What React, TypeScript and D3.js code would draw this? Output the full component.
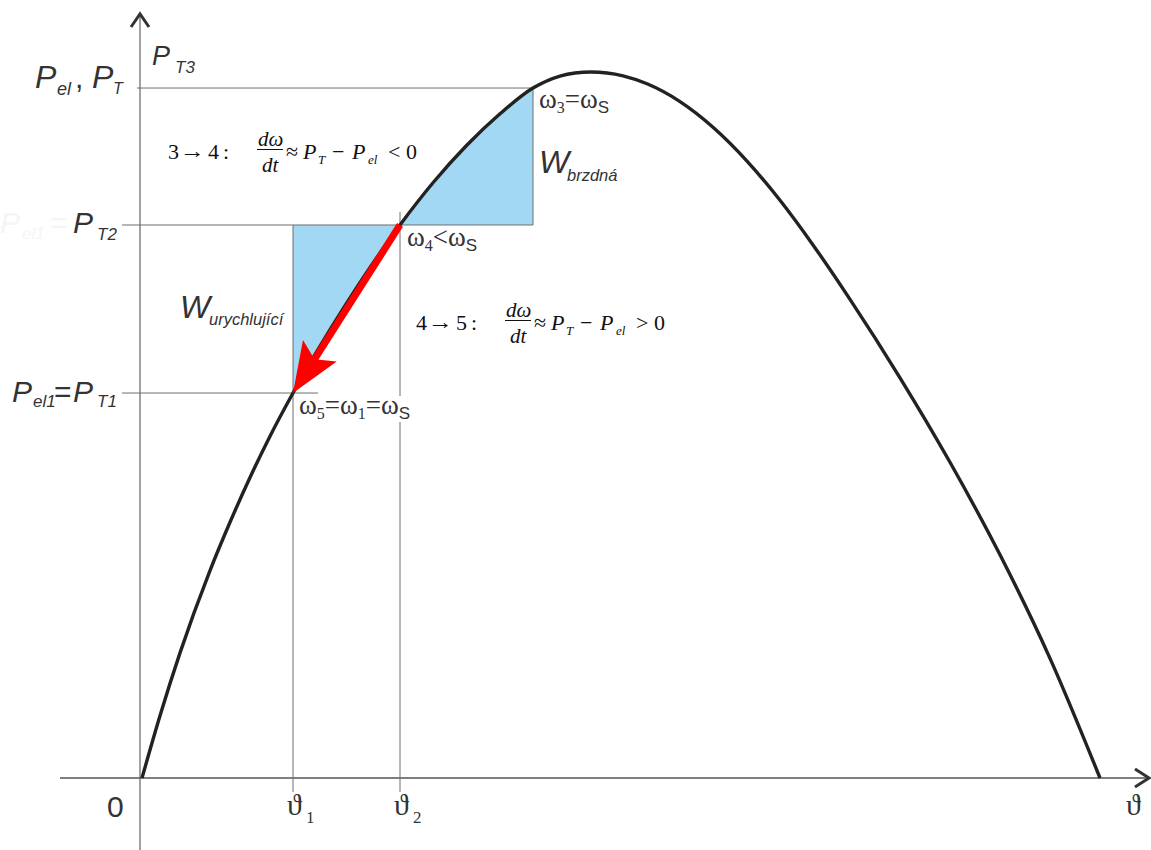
import React from 'react';
import * as d3 from 'd3';

// Power–angle characteristic P(ϑ), angle in degrees, power relative to the maximum
const curveTheta = [
  0, 3.382, 7.14, 12.776, 16.534, 20.292, 24.05, 28.372, 38.33, 48.476, 54.676, 61.065, 67.265, 73.466,
  78.539, 81.357, 84.363, 90.376, 94.885, 101.086, 107.286, 113.674, 119.875, 126.075, 133.027, 142.422,
  151.816, 161.211, 170.605, 180,
];
const curvePower = [
  0, 0.0881, 0.1772, 0.2938, 0.3622, 0.4256, 0.4841, 0.5453, 0.6711, 0.7833, 0.8431, 0.8966, 0.9408, 0.9773,
  0.9943, 0.9986, 1.0, 0.9946, 0.9833, 0.9581, 0.9218, 0.8739, 0.8183, 0.7551, 0.678, 0.5669,
  0.4472, 0.3161, 0.1695, 0,
];

// Operating angles ϑ1, ϑ2, ϑ3 and turbine power levels PT1, PT2, PT3
const angleMarks = [28.372, 48.476, 73.466];
const powerLevels = [0.5453, 0.7833, 0.9773];
const angleLabels = ['1', '2'];

const W = 1151;
const H = 850;

const SANS = 'Liberation Sans, Arial, sans-serif';
const SERIF = 'Liberation Serif, "Times New Roman", serif';

export default function App() {
  const x = d3.scaleLinear().domain([0, 180]).range([142, 1100]);
  const y = d3.scaleLinear().domain([0, 1]).range([778, 72]);

  const pts: [number, number][] = curveTheta.map((t, i) => [t, curvePower[i]]);
  const [t1, t2, t3] = angleMarks;
  const [p1, p2, p3] = powerLevels;

  const line = d3
    .line<[number, number]>()
    .x((d) => x(d[0]))
    .y((d) => y(d[1]))
    .curve(d3.curveMonotoneX);

  const curveD = line(pts) || '';
  // region under the characteristic (its ends lie on the axis) and region above it
  const underD = curveD + 'Z';
  const aboveD = `${curveD}L${x(180)},0L${x(0)},0Z`;

  // swing arrow from state 4 (ϑ2, PT2) back to state 5 (ϑ1, PT1)
  const a0 = [x(t2), y(p2)];
  const a1 = [x(t1), y(p1)];
  const len = Math.hypot(a1[0] - a0[0], a1[1] - a0[1]);
  const ux = (a1[0] - a0[0]) / len;
  const uy = (a1[1] - a0[1]) / len;
  const px = -uy;
  const py = ux;
  const headLen = 50;
  const headHalf = 20;
  const notch = 10;
  const bx = a1[0] - ux * headLen;
  const by = a1[1] - uy * headLen;
  const nx = a1[0] - ux * (headLen - notch);
  const ny = a1[1] - uy * (headLen - notch);
  const head = [
    [a1[0], a1[1]],
    [bx + px * headHalf, by + py * headHalf],
    [nx, ny],
    [bx - px * headHalf, by - py * headHalf],
  ]
    .map((p) => p.join(','))
    .join(' ');

  const guide = '#6e6e6e';
  const label = '#333';
  const ink = '#111';

  const xAxisY = y(0);
  const yAxisX = 140;

  return (
    <svg width={W} height={H} style={{ position: 'absolute', left: 0, top: 0, background: '#fff' }}>
      <defs>
        <clipPath id="under-curve">
          <path d={underD} />
        </clipPath>
        <clipPath id="above-curve">
          <path d={aboveD} />
        </clipPath>
      </defs>

      {/* shaded energy areas */}
      <rect
        x={x(t1)}
        y={y(p2)}
        width={x(t2) - x(t1)}
        height={y(0) - y(p2)}
        fill="#a3d8f4"
        clipPath="url(#above-curve)"
      />
      <rect
        x={x(t2)}
        y={y(1.05)}
        width={x(t3) - x(t2)}
        height={y(p2) - y(1.05)}
        fill="#a3d8f4"
        clipPath="url(#under-curve)"
      />

      {/* axes */}
      <line x1={yAxisX} x2={yAxisX} y1={15} y2={850} stroke="#7a7a7a" strokeWidth={1.4} />
      <line x1={60} x2={1149} y1={xAxisY} y2={xAxisY} stroke="#555" strokeWidth={1.4} />
      <polyline points={`${yAxisX - 9},27 ${yAxisX},14 ${yAxisX + 9},27`} fill="none" stroke="#333" strokeWidth={3} />
      <polyline points={`1135,${xAxisY - 9} 1149,${xAxisY} 1135,${xAxisY + 9}`} fill="none" stroke="#333" strokeWidth={3} />

      {/* guide lines */}
      <line x1={137} x2={x(t3)} y1={y(p3)} y2={y(p3)} stroke={guide} strokeWidth={1} />
      <line x1={122} x2={x(t3)} y1={y(p2)} y2={y(p2)} stroke={guide} strokeWidth={1} />
      <line x1={122} x2={x(t1) + 25} y1={y(p1)} y2={y(p1)} stroke={guide} strokeWidth={1} />
      <line x1={x(t1)} x2={x(t1)} y1={y(p2)} y2={792} stroke={guide} strokeWidth={1} />
      <line x1={x(t2)} x2={x(t2)} y1={y(p2) - 13} y2={792} stroke={guide} strokeWidth={1} />
      <line x1={x(t3)} x2={x(t3)} y1={y(p3)} y2={y(p2)} stroke={guide} strokeWidth={1} />

      {/* characteristic */}
      <path d={curveD} fill="none" stroke="#222" strokeWidth={3.4} />

      {/* swing arrow */}
      <line x1={a0[0]} y1={a0[1]} x2={nx} y2={ny} stroke="#ff0000" strokeWidth={7} />
      <polygon points={head} fill="#ff0000" />

      {/* faint leftover label */}
      <g fill="#f5f5f5" fontFamily={SANS} fontStyle="italic">
        <text x={0} y={233} fontSize={30}>P</text>
        <text x={22} y={239} fontSize={17}>el1</text>
        <text x={50} y={233} fontSize={30} fontStyle="normal">=</text>
      </g>

      {/* axis labels */}
      <g fill={label} fontFamily={SANS} fontStyle="italic">
        <text x={35} y={88} fontSize={32}>P</text>
        <text x={57} y={95} fontSize={18}>el</text>
        <text x={75} y={88} fontSize={30} fontStyle="normal">,</text>
        <text x={92} y={88} fontSize={32}>P</text>
        <text x={113} y={94} fontSize={16}>T</text>

        <text x={152} y={65} fontSize={27}>P</text>
        <text x={175} y={73} fontSize={17}>T3</text>

        <text x={73} y={233} fontSize={30}>P</text>
        <text x={97} y={240} fontSize={17}>T2</text>

        <text x={12} y={402} fontSize={30}>P</text>
        <text x={33} y={407} fontSize={17}>el1</text>
        <text x={54} y={402} fontSize={30} fontStyle="normal">=</text>
        <text x={73} y={402} fontSize={30}>P</text>
        <text x={97} y={407} fontSize={17}>T1</text>

        <text x={180} y={318} fontSize={32}>W</text>
        <text x={209} y={325} fontSize={16.5}>urychlující</text>

        <text x={539} y={173} fontSize={32}>W</text>
        <text x={567} y={181} fontSize={16.5}>brzdná</text>
      </g>

      <text x={107} y={817} fontSize={30} fill={label} fontFamily={SANS}>0</text>

      {/* angle labels */}
      <g fill={label} fontFamily={SERIF}>
        {[t1, t2].map((t, i) => (
          <g key={i}>
            <text x={x(t) - 6} y={815} fontSize={30}>ϑ</text>
            <text x={x(t) + 13} y={823} fontSize={17}>{angleLabels[i]}</text>
          </g>
        ))}
        <text x={1126} y={815} fontSize={30}>ϑ</text>
      </g>

      {/* speed states */}
      <g fill={label} fontFamily={SERIF} fontSize={27}>
        <text x={539} y={108}>
          ω<tspan fontSize={16} dy={5}>3</tspan>
          <tspan dy={-5}>=ω</tspan>
          <tspan fontSize={17} dy={5} fontFamily={SANS}>S</tspan>
        </text>
        <text x={407} y={246}>
          ω<tspan fontSize={16} dy={5}>4</tspan>
          <tspan dy={-5}>&lt;ω</tspan>
          <tspan fontSize={17} dy={5} fontFamily={SANS}>S</tspan>
        </text>
        <rect x={297} y={396} width={140} height={26} fill="#fff" />
        <text x={299} y={414}>
          ω<tspan fontSize={16} dy={5}>5</tspan>
          <tspan dy={-5}>=ω</tspan>
          <tspan fontSize={16} dy={5}>1</tspan>
          <tspan dy={-5}>=ω</tspan>
          <tspan fontSize={17} dy={5} fontFamily={SANS}>S</tspan>
        </text>
      </g>

      {/* swing equations */}
      {[
        { bar: 149.5, from: '3', to: '4', rel: '<', x0: 168 },
        { bar: 320.5, from: '4', to: '5', rel: '>', x0: 416 },
      ].map((e, i) => {
        const base = e.bar + 9;
        const fx = e.x0 + 90;
        return (
          <g key={i} fill={ink} fontFamily={SERIF} fontSize={22}>
            <text x={e.x0} y={base}>{e.from}</text>
            <text x={e.x0 + 12} y={base - 1} textLength={25} lengthAdjust="spacingAndGlyphs">→</text>
            <text x={e.x0 + 40} y={base}>{e.to}</text>
            <text x={e.x0 + 55} y={base}>:</text>
            <text x={fx} y={e.bar - 4} fontStyle="italic" fontSize={21}>dω</text>
            <line x1={fx - 1} x2={fx + 25} y1={e.bar} y2={e.bar} stroke={ink} strokeWidth={1} />
            <text x={fx + 4} y={e.bar + 22} fontStyle="italic" fontSize={21}>dt</text>
            <text x={fx + 28} y={base}>≈</text>
            <text x={fx + 45} y={base} fontStyle="italic">P</text>
            <text x={fx + 60} y={base + 5} fontSize={13} fontStyle="italic">T</text>
            <text x={fx + 74} y={base}>−</text>
            <text x={fx + 94} y={base} fontStyle="italic">P</text>
            <text x={fx + 110} y={base + 5} fontSize={13} fontStyle="italic">el</text>
            <text x={fx + 130} y={base}>{e.rel}</text>
            <text x={fx + 148} y={base}>0</text>
          </g>
        );
      })}
    </svg>
  );
}
